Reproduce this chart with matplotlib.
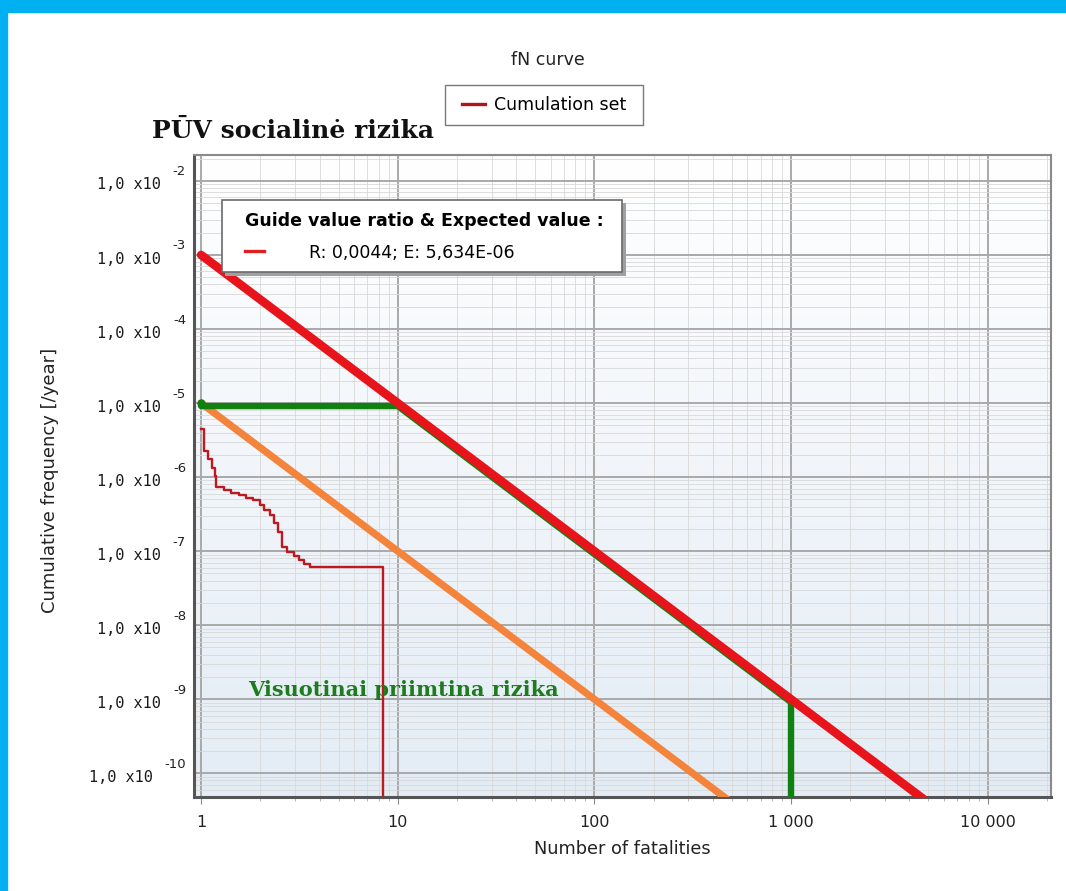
import numpy as np
import matplotlib
matplotlib.use("Agg")
import matplotlib.pyplot as plt
import matplotlib.ticker as mticker
import matplotlib.transforms as mtransforms
from matplotlib.lines import Line2D
from matplotlib.patches import Rectangle
from matplotlib.colors import LinearSegmentedColormap

# ---------------- data ----------------
# upper limit line (f = 1e-3 / N^2)
upper_N = [1, 5000]
upper_f = [1e-3, 4e-11]
# lower limit line (f = 1e-5 / N^2)
lower_N = [1, 500]
lower_f = [1e-5, 4e-11]
# guide / acceptance curve
guide_N = [1, 10, 1000, 1000]
guide_f = [1e-5, 1e-5, 1e-9, 1e-12]
# cumulation set (step FN curve), log10 frequencies
cum_N = [1.00, 1.03, 1.09, 1.13, 1.18, 1.19, 1.30, 1.42, 1.55, 1.70, 1.84,
         1.99, 2.10, 2.24, 2.35, 2.47, 2.57, 2.73, 2.95, 3.15, 3.35, 3.58, 8.45]
cum_logf = [-5.35, -5.65, -5.75, -5.88, -5.98, -6.13, -6.17, -6.21, -6.24, -6.28, -6.31,
            -6.38, -6.44, -6.51, -6.62, -6.74, -6.94, -7.01, -7.07, -7.12, -7.17, -7.22, -12.0]
x_ticks = [1, 10, 100, 1000, 10000]
y_exponents = [-2, -3, -4, -5, -6, -7, -8, -9, -10]

legend_text = "R: 0,0044; E: 5,634E-06"

W, H = 1066, 891
fig = plt.figure(figsize=(W / 100, H / 100), dpi=100)
fig.patch.set_facecolor("white")


def px_rect(x0, y0, x1, y1, **kw):
    """Rectangle given in pixel coords (top-left origin), figure transform."""
    return Rectangle((x0 / W, 1 - y1 / H), (x1 - x0) / W, (y1 - y0) / H,
                     transform=fig.transFigure, **kw)


# blue frame (left and top)
fig.patches.append(px_rect(0, 0, 7, H, color="#00B0F0", zorder=0))
fig.patches.append(px_rect(0, 0, W, 12, color="#00B0F0", zorder=0))

left, right, top, bottom = 194, 1051, 155, 797
ax = fig.add_axes([left / W, 1 - bottom / H, (right - left) / W, (bottom - top) / H])
ax.set_xscale("log")
ax.set_yscale("log")
ax.set_xlim(0.92, 21000)
ax.set_ylim(10 ** -10.32, 10 ** -1.65)

# gradient background
grad = np.linspace(0, 1, 256).reshape(-1, 1)
cmap = LinearSegmentedColormap.from_list("bg", ["#E3ECF5", "#FFFFFF"])
ax.imshow(grad, extent=[0, 1, 0, 1], transform=ax.transAxes, cmap=cmap,
          aspect="auto", origin="lower", zorder=0)
ax.set_facecolor("white")

# grid
ax.xaxis.set_major_locator(mticker.LogLocator(base=10, numticks=20))
ax.yaxis.set_major_locator(mticker.LogLocator(base=10, numticks=20))
ax.xaxis.set_minor_locator(mticker.LogLocator(base=10, subs=np.arange(2, 10), numticks=50))
ax.yaxis.set_minor_locator(mticker.LogLocator(base=10, subs=np.arange(2, 10), numticks=50))
ax.grid(True, which="major", color="#A9A9A9", lw=1.4, zorder=1)
ax.grid(True, which="minor", color="#D8D8D8", lw=0.6, zorder=1)
ax.set_axisbelow(True)

for s in ["left", "bottom"]:
    ax.spines[s].set_color("#555555")
    ax.spines[s].set_linewidth(2.2)
for s in ["top", "right"]:
    ax.spines[s].set_color("#8A8A8A")
    ax.spines[s].set_linewidth(1.5)

# lines
ax.plot(lower_N, lower_f, color="#F4843C", lw=5.2, solid_capstyle="round", zorder=3)
green_tr = mtransforms.offset_copy(ax.transData, fig=fig, x=0, y=-3, units="dots")
ax.plot(guide_N, guide_f, color="#108010", lw=4.6, solid_capstyle="round",
        solid_joinstyle="round", transform=green_tr, zorder=4)
ax.plot(guide_N[:1], guide_f[:1], "o", color="#108010", ms=5, zorder=4)
ax.plot(upper_N, upper_f, color="#E8141B", lw=6.2, solid_capstyle="round", zorder=5)
step_line, = ax.plot(cum_N, [10 ** v for v in cum_logf], color="#BE1820", lw=1.7,
                     drawstyle="steps-post", zorder=6)

# x ticks
ax.set_xticks(x_ticks)
ax.xaxis.set_major_formatter(mticker.FuncFormatter(lambda v, p: f"{int(round(v)):,}".replace(",", " ")))
ax.tick_params(axis="x", which="major", labelsize=11.5, pad=8, length=5, color="#888888",
               direction="out", labelcolor="#222222")
ax.tick_params(axis="x", which="minor", length=3, color="#AAAAAA", direction="out")
ax.tick_params(axis="y", which="both", labelleft=False, length=0)
ax.set_xlabel("Number of fatalities", fontsize=12.8, color="#222222", labelpad=7)

# y tick labels: "1,0 x10" with superscript exponent
ytr = mtransforms.blended_transform_factory(ax.transAxes, ax.transData)
for e in y_exponents:
    exp_t = ax.text(-8 / (right - left), 10.0 ** e, f"{e}", transform=mtransforms.offset_copy(
        ytr, fig=fig, x=0, y=9, units="dots"), ha="right", va="center", fontsize=9.5,
        color="#222222", family="DejaVu Sans")
    ax.annotate("1,0 x10", xy=(0, 0.5), xycoords=exp_t, xytext=(-8.5, -9.4),
                textcoords="offset points", ha="right", va="center",
                fontsize=11, family="DejaVu Sans Mono", color="#1A1A1A")

fig.text(50 / W, 1 - 480 / H, "Cumulative frequency [/year]", rotation=90, ha="center",
         va="center", fontsize=13, color="#222222")

# title & top legend
fig.text(548 / W, 1 - 60 / H, "fN curve", ha="center", va="center", fontsize=12.5, color="#222222")
fig.patches.append(px_rect(445, 85, 643, 125, facecolor="white", edgecolor="#7A7A7A", lw=1.0, zorder=5))
leg_top = fig.legend([Line2D([], [], color="#B0141C", lw=2.4)], ["Cumulation set"],
                     loc="center", bbox_to_anchor=(544 / W, 1 - 105 / H), fontsize=12.5,
                     frameon=False, handlelength=1.3, handletextpad=0.5, borderpad=0.2,
                     borderaxespad=0)
leg_top.set_zorder(6)

fig.text(152 / W, 1 - 131 / H, "PŪV socialinė rizika", ha="left", va="center",
         fontsize=18, fontweight="bold", family="DejaVu Serif", color="#111111")

# inner legend box (shadow + frame) inside the axes, then contents
ax.add_patch(px_rect(225, 203, 626, 276, facecolor="#A0A0A0", edgecolor="none", zorder=8, clip_on=False))
ax.add_patch(px_rect(222, 200, 622, 272, facecolor="white", edgecolor="#6A6A6A", lw=1.2, zorder=9, clip_on=False))
leg = ax.legend([Line2D([], [], color="#E02020", lw=2.4)], [legend_text],
                loc="center", bbox_to_anchor=((424 - left) / (right - left), (bottom - 237) / (bottom - top)),
                title="Guide value ratio & Expected value :", fontsize=12.5,
                title_fontproperties={"weight": "bold", "size": 12.5},
                frameon=False, handlelength=1.1, handletextpad=2.6, borderpad=0.2,
                labelspacing=0.75, borderaxespad=0, alignment="left")
leg.set_zorder(10)

ax.text((248 - left) / (right - left), (bottom - 690) / (bottom - top), "Visuotinai priimtina rizika",
        transform=ax.transAxes, ha="left", va="center", fontsize=15, fontweight="bold",
        family="DejaVu Serif", color="#1E7B1E", zorder=7)

fig.savefig("out.png", dpi=100)
